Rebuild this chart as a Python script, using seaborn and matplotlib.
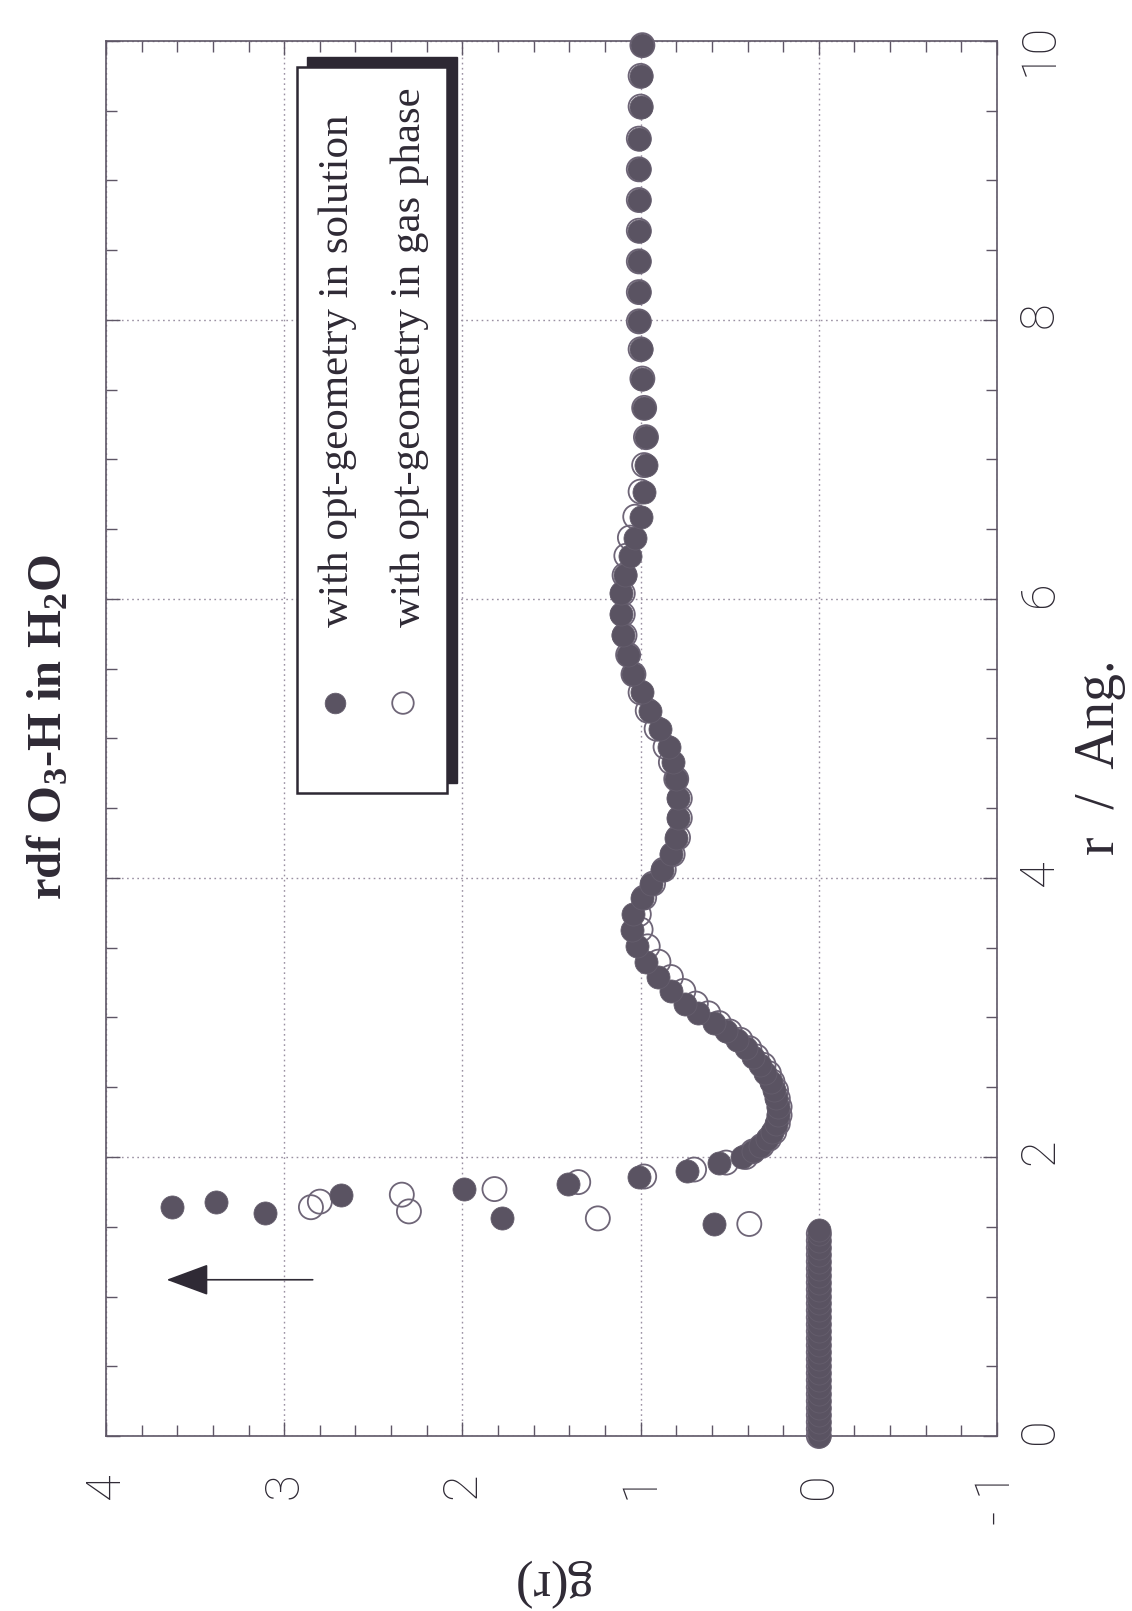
import matplotlib
matplotlib.use("Agg")
import matplotlib.pyplot as plt
import pandas as pd
import seaborn as sns
from matplotlib.patches import Rectangle
from matplotlib.ticker import MultipleLocator

# ---- radial distribution function O3-H in water ----
# distance r (Angstrom) and g(r), optimised geometry in solution
r_solution = [
    0.00, 0.05, 0.10, 0.15, 0.20, 0.25, 0.30, 0.35, 0.40, 0.45, 0.50,
    0.55, 0.60, 0.65, 0.70, 0.75, 0.80, 0.85, 0.90, 0.95, 1.00, 1.05,
    1.10, 1.15, 1.20, 1.25, 1.30, 1.35, 1.40, 1.45, 1.48,
    1.52, 1.56, 1.60, 1.64, 1.68, 1.73, 1.77, 1.81, 1.86, 1.90, 1.96, 2.00,
    2.04, 2.08, 2.13, 2.18, 2.24, 2.30, 2.36, 2.42, 2.48, 2.54, 2.60,
    2.66, 2.72, 2.78, 2.84, 2.90, 2.96,
    3.03, 3.10, 3.19, 3.29, 3.40, 3.51, 3.63, 3.74, 3.86, 3.96, 4.06,
    4.17, 4.29, 4.43, 4.57, 4.71, 4.83, 4.94, 5.07, 5.20, 5.33, 5.46,
    5.60, 5.74, 5.89, 6.04, 6.17,
    6.31, 6.44, 6.59, 6.77, 6.96, 7.16, 7.37, 7.58, 7.79, 7.99, 8.20,
    8.42, 8.64, 8.86, 9.08, 9.30, 9.53, 9.75, 9.97,
]
g_solution = [
    0.00, 0.00, 0.00, 0.00, 0.00, 0.00, 0.00, 0.00, 0.00, 0.00, 0.00,
    0.00, 0.00, 0.00, 0.00, 0.00, 0.00, 0.00, 0.00, 0.00, 0.00, 0.00,
    0.00, 0.00, 0.00, 0.00, 0.00, 0.00, 0.00, 0.00, 0.00,
    0.59, 1.78, 3.11, 3.63, 3.38, 2.68, 1.99, 1.41, 1.01, 0.74, 0.56, 0.43,
    0.37, 0.33, 0.29, 0.26, 0.24, 0.23, 0.23, 0.24, 0.25, 0.27, 0.30,
    0.33, 0.37, 0.41, 0.46, 0.52, 0.59,
    0.68, 0.75, 0.83, 0.90, 0.97, 1.02, 1.05, 1.04, 0.99, 0.94, 0.88,
    0.83, 0.80, 0.79, 0.79, 0.80, 0.82, 0.84, 0.89, 0.95, 0.99, 1.04,
    1.07, 1.10, 1.11, 1.11, 1.09,
    1.06, 1.03, 1.00, 0.98, 0.97, 0.97, 0.98, 0.99, 1.00, 1.01, 1.01,
    1.01, 1.01, 1.01, 1.01, 1.01, 1.00, 1.00, 0.99,
]

# optimised geometry in gas phase
r_gas = [
    0.00, 0.05, 0.10, 0.15, 0.20, 0.25, 0.30, 0.35, 0.40, 0.45, 0.50,
    0.55, 0.60, 0.65, 0.70, 0.75, 0.80, 0.85, 0.90, 0.95, 1.00, 1.05,
    1.10, 1.15, 1.20, 1.25, 1.30, 1.35, 1.40, 1.45,
    1.52, 1.56, 1.61, 1.64, 1.68, 1.73, 1.77, 1.82, 1.86, 1.91, 1.96, 2.00,
    2.04, 2.08, 2.13, 2.18, 2.24, 2.30, 2.36, 2.42, 2.48, 2.54, 2.60,
    2.66, 2.72, 2.78, 2.84, 2.90, 2.96,
    3.03, 3.10, 3.19, 3.29, 3.40, 3.51, 3.63, 3.74, 3.86, 3.96, 4.06,
    4.17, 4.29, 4.43, 4.57, 4.71, 4.83, 4.94, 5.07, 5.20, 5.33, 5.46,
    5.60, 5.74, 5.89, 6.04, 6.17,
    6.31, 6.44, 6.59, 6.77, 6.96, 7.16, 7.37, 7.58, 7.79, 7.99, 8.20,
    8.42, 8.64, 8.86, 9.08, 9.30, 9.53, 9.75, 9.97,
]
g_gas = [
    0.00, 0.00, 0.00, 0.00, 0.00, 0.00, 0.00, 0.00, 0.00, 0.00, 0.00,
    0.00, 0.00, 0.00, 0.00, 0.00, 0.00, 0.00, 0.00, 0.00, 0.00, 0.00,
    0.00, 0.00, 0.00, 0.00, 0.00, 0.00, 0.00, 0.00,
    0.39, 1.24, 2.30, 2.85, 2.80, 2.34, 1.82, 1.35, 0.98, 0.70, 0.52, 0.41,
    0.37, 0.32, 0.28, 0.25, 0.23, 0.22, 0.22, 0.23, 0.24, 0.26, 0.28,
    0.31, 0.35, 0.39, 0.44, 0.50, 0.56,
    0.62, 0.69, 0.76, 0.83, 0.90, 0.96, 1.00, 1.01, 0.98, 0.93, 0.87,
    0.82, 0.79, 0.78, 0.78, 0.80, 0.83, 0.86, 0.91, 0.96, 1.00, 1.04,
    1.07, 1.09, 1.10, 1.10, 1.09,
    1.08, 1.06, 1.03, 1.00, 0.98, 0.97, 0.98, 0.99, 1.00, 1.01, 1.01,
    1.01, 1.01, 1.01, 1.01, 1.01, 1.00, 1.00, 0.99,
]

# arrow marking points beyond the g(r) range
arrow_r = 1.12
arrow_g_tail = 2.84
arrow_g_tip = 3.66

g_ticks = [4, 3, 2, 1, 0, -1]
g_tick_labels = ["4", "3", "2", "1", "0", "- 1"]
r_ticks = [0, 2, 4, 6, 8, 10]

series_labels = ["with opt-geometry in solution", "with opt-geometry in gas phase"]
title_text = "rdf O$_{3}$-H in H$_{2}$O"
g_label = "g(r)"
r_label = "r  /  Ang."

# ---- style ----
sns.set_theme(style="ticks")
plt.rcParams["font.family"] = ["Roboto", "DejaVu Sans"]
plt.rcParams["font.weight"] = "light"
plt.rcParams["mathtext.fontset"] = "custom"
plt.rcParams["mathtext.rm"] = "Liberation Serif:bold"
plt.rcParams["mathtext.it"] = "Liberation Serif:italic:bold"
plt.rcParams["mathtext.bf"] = "Liberation Serif:bold"

INK = "#2f2a35"
FRAME = "#5e5666"
GRID = "#9a90a2"
DOT = "#5a5362"
DOT_EDGE = "#655e6d"
RING = "#6e6577"
SERIF = "Liberation Serif"
DOT_SIZE = 275
RING_SIZE = 300

fig = plt.figure(figsize=(11.32, 16.11), dpi=100)
ax = fig.add_axes([106 / 1132, 1 - 1436 / 1611, 891 / 1132, 1395 / 1611])

gas = pd.DataFrame({"g": g_gas, "r": r_gas})
sol = pd.DataFrame({"g": g_solution, "r": r_solution})

sns.scatterplot(data=gas, x="g", y="r", ax=ax, marker="o", s=RING_SIZE,
                facecolor="none", edgecolor=RING, linewidth=1.3,
                zorder=3, clip_on=False, legend=False)
sns.scatterplot(data=sol, x="g", y="r", ax=ax, marker="o", s=DOT_SIZE,
                color=DOT, edgecolor=DOT_EDGE, linewidth=0.6,
                zorder=4, clip_on=False, legend=False)

ax.annotate("", xy=(arrow_g_tip, arrow_r), xytext=(arrow_g_tail, arrow_r),
            arrowprops=dict(arrowstyle="-|>,head_length=2.7,head_width=1.0",
                            mutation_scale=10, color=INK, lw=1.2,
                            shrinkA=0, shrinkB=0), zorder=5)

# axes: g(r) runs along the horizontal, r along the vertical
ax.set_xlim(4, -1)
ax.set_ylim(0, 10)
ax.set_xticks(g_ticks, labels=g_tick_labels)
ax.set_yticks(r_ticks)
ax.xaxis.set_minor_locator(MultipleLocator(0.2))
ax.yaxis.set_minor_locator(MultipleLocator(0.5))

ax.grid(True, which="major", color=GRID, linestyle=(0, (1.2, 2.5)), linewidth=1.0)
ax.set_axisbelow(True)
for sp in ax.spines.values():
    sp.set_color(FRAME)
    sp.set_linewidth(1.2)

ax.tick_params(which="both", direction="in", top=True, bottom=True,
               left=True, right=True, labelleft=False, labelright=True,
               labelbottom=True, labeltop=False, color=FRAME, width=1.0)
ax.tick_params(which="major", length=10)
ax.tick_params(which="minor", length=8)
ax.tick_params(axis="x", which="major", pad=26, labelsize=35,
               labelcolor=INK, labelrotation=90)
ax.tick_params(axis="y", which="major", pad=14, labelsize=35,
               labelcolor=INK, labelrotation=90)

ax.set_xlabel(g_label, fontsize=38, family=SERIF, fontweight="normal",
              color=INK, rotation=180)
ax.xaxis.set_label_coords(0.498, -0.1047)
ax.xaxis.label.set(ha="center", va="center", rotation_mode="default")

ax.yaxis.set_label_position("right")
ax.set_ylabel(r_label, fontsize=40, family=SERIF, fontweight="normal",
              color=INK, rotation=90)
ax.yaxis.set_label_coords(1.1156, 0.4867)
ax.yaxis.label.set(ha="center", va="center", rotation_mode="default")

fig.suptitle(title_text, x=0.0430, y=0.5487, rotation=90, ha="center",
             va="center", fontsize=35, fontweight="bold", family=SERIF,
             color=INK)

# ---- legend box with drop shadow ----
box_x, box_y, box_w, box_h = 0.2144, 0.4609, 0.1683, 0.5205
shadow_dx, shadow_dy = 0.0112, 0.0072
ax.add_patch(Rectangle((box_x + shadow_dx, box_y + shadow_dy), box_w, box_h,
                       transform=ax.transAxes, facecolor="#2d2833",
                       edgecolor="#2d2833", lw=1.0, zorder=6, clip_on=False))
ax.add_patch(Rectangle((box_x, box_y), box_w, box_h, transform=ax.transAxes,
                       facecolor="white", edgecolor="#2d2833", lw=1.8,
                       zorder=7, clip_on=False))
ax.scatter([0.257], [0.5254], s=DOT_SIZE * 0.8, color=DOT, edgecolor=DOT_EDGE,
           linewidth=0.6, transform=ax.transAxes, zorder=8, clip_on=False)
ax.scatter([0.3333], [0.5254], s=RING_SIZE * 0.8, facecolor="none",
           edgecolor=RING, linewidth=1.3, transform=ax.transAxes, zorder=8,
           clip_on=False)
for xpos, txt in zip([0.2604, 0.3412], series_labels):
    ax.text(xpos, 0.58, txt, transform=ax.transAxes, rotation=90,
            ha="center", va="bottom", fontsize=31, family=SERIF,
            fontweight="normal", color=INK, zorder=8)

fig.savefig("out.png", dpi=100)
